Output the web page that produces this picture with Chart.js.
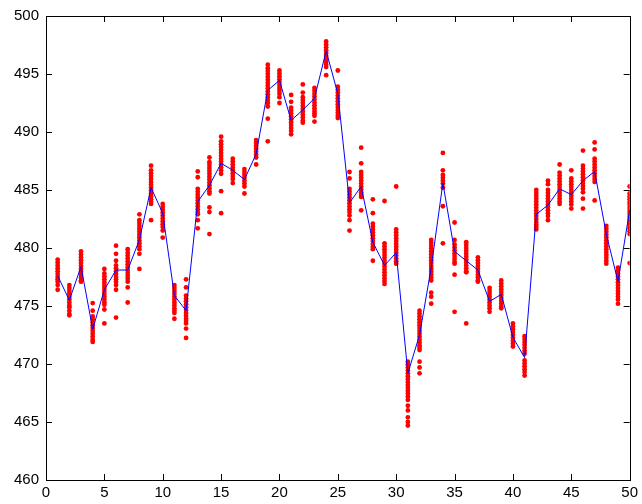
<!DOCTYPE html>
<html>
<head>
<meta charset="utf-8">
<script src="https://cdn.jsdelivr.net/npm/chart.js@4.4.1/dist/chart.umd.min.js"></script>
<style>
    html, body { margin: 0; padding: 0; background: #fff; }
    #grafico { display: block; }
</style>
</head>
<body>
<canvas id="grafico" width="642" height="504"></canvas>
<script>
// valori
var passi = [1,2,3,4,5,6,7,8,9,10,11,12,13,14,15,16,17,18,19,20,21,22,23,24,25,26,27,28,29,30,31,32,33,34,35,36,37,38,39,40,41,42,43,44,45,46,47,48,49,50];
var stima = [477.6,475.5,478.4,473.0,476.4,478.1,478.1,480.7,485.2,483.0,475.9,474.6,484.0,485.4,487.3,486.7,485.9,488.1,493.6,494.45,491.0,491.9,492.9,497.0,493.3,483.9,485.3,480.5,478.5,479.6,469.2,472.5,478.3,485.6,479.7,478.9,478.1,475.4,476.0,472.3,470.55,482.9,483.7,485.1,484.6,485.8,486.6,481.2,477.1,483.25];

// particelle (punti rossi) per ogni passo
var particelle = [
    [479.0,478.75,478.5,478.25,478.0,477.75,477.5,477.3,477.1,476.8,476.4],
    [476.8,476.55,476.3,476.05,475.8,475.55,475.3,475.05,474.9,474.6,474.3,474.2],
    [479.7,479.45,479.2,478.95,478.7,478.45,478.2,477.95,477.7,477.45,477.2,477.1],
    [475.25,474.6,474.1,473.85,473.6,473.35,473.1,472.85,472.6,472.35,472.1,471.9],
    [478.2,477.8,477.55,477.3,477.05,476.8,476.55,476.3,476.05,475.8,475.55,475.3,475.1,474.7,473.5],
    [480.2,479.5,478.9,478.5,478.25,478.0,477.75,477.5,477.3,477.1,476.8,476.4,474.0],
    [479.9,479.6,479.35,479.1,478.85,478.6,478.35,478.1,477.85,477.6,477.35,477.1,476.6,475.3],
    [482.9,482.4,482.15,481.9,481.65,481.4,481.15,480.9,480.65,480.4,480.15,479.9,479.5,478.2],
    [487.1,486.7,486.45,486.2,485.95,485.7,485.45,485.2,484.95,484.7,484.45,484.2,484.0,483.8,482.4],
    [483.8,483.55,483.3,483.05,482.8,482.55,482.3,482.05,481.8,481.5,480.9],
    [476.8,476.55,476.3,476.05,475.8,475.55,475.3,475.05,474.8,474.6,474.4,473.9],
    [477.3,476.6,475.9,475.65,475.4,475.15,474.9,474.65,474.4,474.15,473.9,473.7,473.5,473.05,472.25],
    [486.6,486.1,485.1,484.85,484.6,484.35,484.1,483.85,483.6,483.35,483.1,482.9,482.4,481.7],
    [487.8,487.4,487.15,486.9,486.65,486.4,486.15,485.9,485.65,485.4,485.15,484.9,484.7,483.5,483.1,481.2],
    [489.6,489.2,488.95,488.7,488.45,488.2,487.95,487.7,487.45,487.2,486.95,486.7,486.4,484.9,483.0],
    [487.7,487.45,487.2,486.95,486.7,486.45,486.2,485.95,485.6],
    [486.8,486.55,486.3,486.05,485.8,485.55,485.3,484.7],
    [489.3,489.05,488.8,488.55,488.3,488.05,487.8,487.2],
    [495.8,495.5,495.25,495.0,494.75,494.5,494.25,494.0,493.75,493.5,493.25,493.0,492.75,492.5,492.2,491.15,489.2],
    [495.3,495.05,494.8,494.55,494.3,494.05,493.8,493.55,493.3,493.0,492.5],
    [493.2,492.6,492.1,491.85,491.6,491.35,491.1,490.85,490.6,490.35,490.1,489.8],
    [494.1,493.4,493.0,492.75,492.5,492.25,492.0,491.75,491.5,491.25,491.0,490.8],
    [493.8,493.55,493.3,493.05,492.8,492.55,492.3,492.05,491.8,491.6,491.4,490.9],
    [497.8,497.55,497.3,497.05,496.8,496.55,496.3,496.05,495.8,495.6,494.9],
    [495.3,493.9,493.65,493.4,493.15,492.9,492.65,492.4,492.15,491.9,491.65,491.4,491.2],
    [486.55,486.0,485.1,484.85,484.6,484.35,484.1,483.85,483.6,483.35,483.1,482.8,482.4,481.5],
    [488.65,487.3,486.55,486.3,486.05,485.8,485.55,485.3,485.05,484.8,484.6,484.4,483.25],
    [484.2,483.0,482.1,481.85,481.6,481.35,481.1,480.85,480.6,480.35,480.1,479.9,478.9],
    [484.05,480.4,480.15,479.9,479.65,479.4,479.15,478.9,478.65,478.4,478.15,477.9,477.65,477.4,477.15,476.9],
    [485.3,481.6,481.35,481.1,480.85,480.6,480.35,480.1,479.85,479.6,479.35,479.1,478.85,478.65],
    [470.2,469.95,469.7,469.45,469.2,468.95,468.7,468.45,468.2,467.95,467.7,467.45,467.2,466.9,466.4,466.0,465.4,465.0,464.7],
    [474.6,474.35,474.1,473.85,473.6,473.35,473.1,472.85,472.6,472.35,472.1,471.85,471.6,471.4,471.2,470.2,469.7,469.2],
    [480.7,480.45,480.2,479.95,479.7,479.45,479.2,478.95,478.7,478.45,478.2,477.95,477.7,477.45,477.2,476.15,475.8,475.2],
    [488.2,486.7,486.3,486.05,485.8,485.55,485.2,483.6,480.4],
    [482.2,480.7,480.3,480.05,479.8,479.55,479.3,479.05,478.8,478.65,477.7,474.5],
    [480.5,480.25,480.0,479.75,479.5,479.25,479.0,478.75,478.5,478.25,478.0,477.9,473.5],
    [479.2,478.95,478.7,478.45,478.2,477.95,477.7,477.45,477.2,477.1],
    [476.55,476.3,476.05,475.8,475.55,475.3,475.05,474.8,474.5],
    [477.2,476.95,476.7,476.45,476.2,475.95,475.7,475.45,475.2,474.95,474.8],
    [473.5,473.25,473.0,472.75,472.5,472.25,472.0,471.75,471.5],
    [472.4,472.15,471.9,471.65,471.4,471.15,470.9,470.3,470.05,469.8,469.55,469.3,469.0],
    [485.0,484.75,484.5,484.25,484.0,483.75,483.5,483.25,483.0,482.75,482.5,482.25,482.0,481.8,481.6],
    [485.8,485.5,485.0,484.75,484.5,484.25,484.0,483.75,483.5,483.25,483.0,482.75,482.4],
    [487.2,486.5,486.25,486.0,485.75,485.5,485.25,485.0,484.75,484.5,484.25,484.0,483.8],
    [486.7,486.0,485.75,485.5,485.25,485.0,484.75,484.5,484.25,484.0,483.75,483.4],
    [488.4,487.1,486.85,486.6,486.35,486.1,485.85,485.6,485.35,485.1,484.8,484.25,483.4],
    [489.1,488.5,487.7,487.45,487.2,486.95,486.7,486.45,486.2,485.95,485.7,484.1],
    [481.9,481.65,481.4,481.15,480.9,480.65,480.4,480.15,479.9,479.65,479.4,479.15,478.9,478.65],
    [478.3,478.05,477.8,477.55,477.3,477.05,476.8,476.55,476.3,476.05,475.8,475.55,475.2],
    [485.3,484.7,484.45,484.2,483.95,483.7,483.45,483.2,482.95,482.7,482.45,482.2,481.95,481.7,481.45,481.2,478.7]
];
var tickX = [0,5,10,15,20,25,30,35,40,45,50];
var tickY = [460,465,470,475,480,485,490,495,500];

var puntiLinea = passi.map(function(p, i) { return {x: p, y: stima[i]}; });
var puntiRossi = [];
particelle.forEach(function(col, i) {
    col.forEach(function(v) { puntiRossi.push({x: passi[i], y: v}); });
});

// box nero con tacche verso l'interno su tutti i lati (stile matlab)
var boxPlugin = {
    id: 'box',
    afterDatasetsDraw: function(chart) {
        var ctx = chart.ctx, a = chart.chartArea;
        var sx = chart.scales.x, sy = chart.scales.y;
        var L = 6;
        ctx.save();
        ctx.strokeStyle = '#000';
        ctx.lineWidth = 1;
        ctx.beginPath();
        tickX.forEach(function(t) {
            var px = Math.round(sx.getPixelForValue(t)) + 0.5;
            ctx.moveTo(px, a.bottom); ctx.lineTo(px, a.bottom - L);
            ctx.moveTo(px, a.top); ctx.lineTo(px, a.top + L);
        });
        tickY.forEach(function(t) {
            var py = Math.round(sy.getPixelForValue(t)) + 0.5;
            ctx.moveTo(a.left, py); ctx.lineTo(a.left + L, py);
            ctx.moveTo(a.right, py); ctx.lineTo(a.right - L, py);
        });
        ctx.stroke();
        ctx.strokeRect(Math.round(a.left) + 0.5, Math.round(a.top) + 0.5,
            Math.round(a.right - a.left), Math.round(a.bottom - a.top));
        ctx.restore();
    }
};

var ctx = document.getElementById('grafico');
var chart = new Chart(ctx, {
    type: 'scatter',
    data: {
        datasets: [{
            type: 'line',
            data: puntiLinea,
            borderColor: '#0000ff',
            borderWidth: 1,
            pointRadius: 0,
            fill: false,
            tension: 0
        }, {
            data: puntiRossi,
            backgroundColor: '#ff0000',
            pointRadius: 2.4,
            pointBorderWidth: 0,
            pointHoverRadius: 0
        }]
    },
    options: {
        responsive: false,
        animation: false,
        devicePixelRatio: 1,
        layout: { padding: { top: 16, right: 10, left: 0, bottom: 0 } },
        plugins: { legend: { display: false }, tooltip: { enabled: false } },
        scales: {
            x: {
                type: 'linear', min: 0, max: 50,
                afterBuildTicks: function(s) { s.ticks = tickX.map(function(v) { return {value: v}; }); },
                afterFit: function(s) { s.height = 24; },
                grid: { display: false, drawTicks: false },
                border: { display: false },
                ticks: { color: '#000', padding: 4, maxRotation: 0, font: { family: 'Liberation Sans, Arial', size: 15 } }
            },
            y: {
                type: 'linear', min: 460, max: 500,
                afterBuildTicks: function(s) { s.ticks = tickY.map(function(v) { return {value: v}; }); },
                afterFit: function(s) { s.width = 46; },
                grid: { display: false, drawTicks: false },
                border: { display: false },
                ticks: { color: '#000', padding: 7, font: { family: 'Liberation Sans, Arial', size: 15 } }
            }
        }
    },
    plugins: [boxPlugin]
});
</script>
</body>
</html>
